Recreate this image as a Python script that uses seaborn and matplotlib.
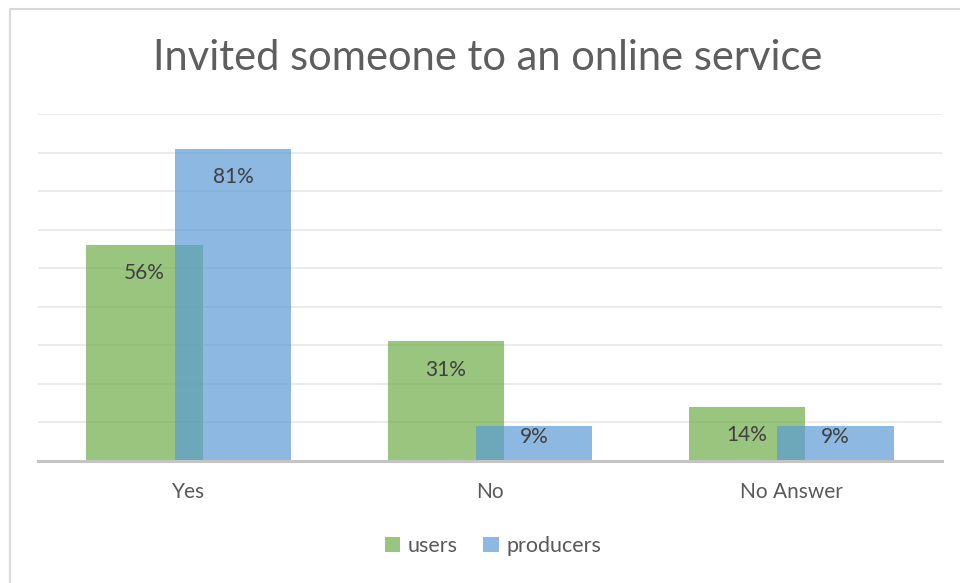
import matplotlib
matplotlib.use("Agg")
import matplotlib.pyplot as plt
from matplotlib.lines import Line2D
from matplotlib.patches import Patch
import pandas as pd
import seaborn as sns

# Survey answers: share of respondents (%)
categories = ["Yes", "No", "No Answer"]
users = [56, 31, 14]
producers = [81, 9, 9]
series_names = ["users", "producers"]
title = "Invited someone to an online service"

df = pd.DataFrame({
    "answer": categories * 2,
    "share": users + producers,
    "group": ["users"] * len(categories) + ["producers"] * len(categories),
})

sns.set_theme(style="white")
plt.rcParams["font.family"] = ["Lato", "DejaVu Sans"]

palette = {"users": "#70AD47", "producers": "#5B9BD5"}
text_dark = "#404040"
text_mid = "#595959"

fig = plt.figure(figsize=(9.6, 5.83), dpi=100)
ax = fig.add_axes([38 / 960, 122 / 583, 904 / 960, 347 / 583])

sns.barplot(
    data=df, x="answer", y="share", hue="group", order=categories,
    hue_order=series_names, palette=palette, saturation=1, alpha=0.7,
    width=0.588, gap=-0.313, linewidth=0, legend=False, ax=ax,
)

ax.set_ylim(0, 90)
ax.set_xlim(-0.5, 2.5)
ax.set_yticks(range(0, 91, 10))
ax.yaxis.grid(True, color="#E6E6E6", linewidth=1.1)
ax.set_axisbelow(True)
ax.set_yticklabels([])
ax.tick_params(axis="both", length=0)
ax.tick_params(axis="x", pad=15, labelsize=15, labelcolor=text_mid)
ax.set_xlabel("")
ax.set_ylabel("")
for side in ["left", "right", "top"]:
    ax.spines[side].set_visible(False)
ax.spines["bottom"].set_color("#C4C4C4")
ax.spines["bottom"].set_linewidth(2.2)

# Value labels inside the top end of each bar, kept above the baseline
for container, values in zip(ax.containers, [users, producers]):
    for bar, v in zip(container, values):
        y = max(v - 7.3, 6.2)
        ax.text(bar.get_x() + bar.get_width() / 2, y, f"{v}%",
                ha="center", va="center", fontsize=15, color=text_dark)

fig.text(488 / 960, 1 - 58 / 583, title, ha="center", va="center",
         fontsize=30, color="#5E5E5E")

handles = [Patch(facecolor=palette[n], alpha=0.7, edgecolor="none") for n in series_names]
fig.legend(handles, series_names, loc="center", bbox_to_anchor=(493 / 960, 37 / 583),
           ncol=2, frameon=False, fontsize=15.5, labelcolor=text_mid,
           handlelength=0.7, handleheight=0.7, handletextpad=0.35, columnspacing=1.2)

# Chart frame
fig.add_artist(Line2D([9.5 / 960, 1], [1 - 8.5 / 583] * 2, transform=fig.transFigure,
                      color="#D9D9D9", linewidth=1.5))
fig.add_artist(Line2D([9.5 / 960] * 2, [0, 1 - 8.5 / 583], transform=fig.transFigure,
                      color="#D9D9D9", linewidth=1.5))

fig.savefig("out.png", dpi=100, facecolor="white")
